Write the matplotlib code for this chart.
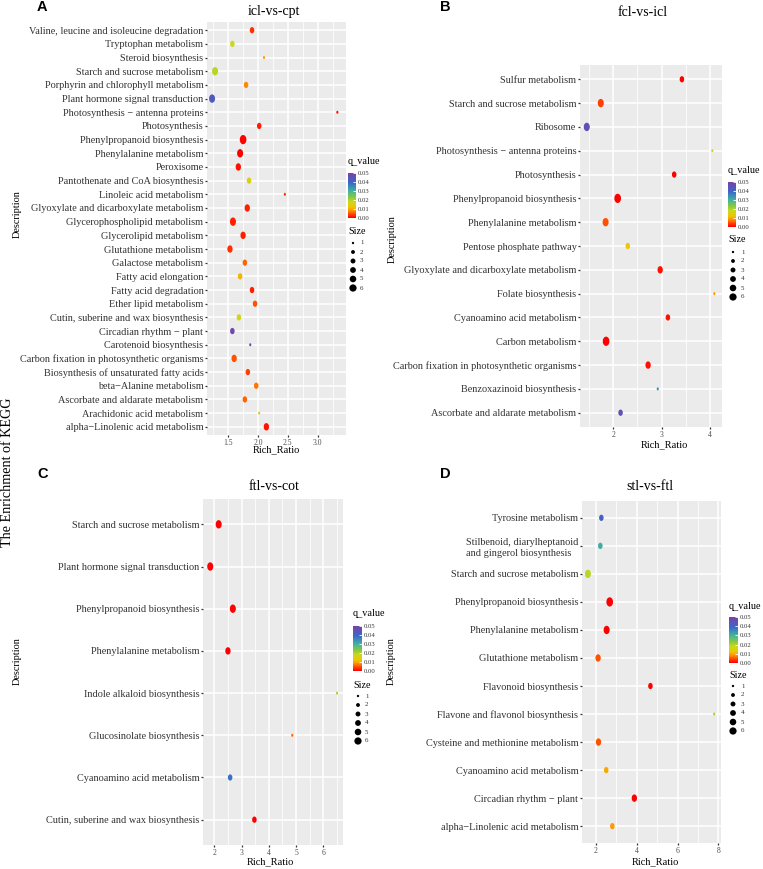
import numpy as np
import matplotlib
matplotlib.use("Agg")
import matplotlib.pyplot as plt
from matplotlib.path import Path
from matplotlib.colors import LinearSegmentedColormap, Normalize
from matplotlib.colorbar import ColorbarBase

W, H = 763, 869
SERIF = "Liberation Serif"

# ---------------- data ----------------
names_a = ["Valine, leucine and isoleucine degradation", "Tryptophan metabolism",
           "Steroid biosynthesis", "Starch and sucrose metabolism",
           "Porphyrin and chlorophyll metabolism", "Plant hormone signal transduction",
           "Photosynthesis \u2212 antenna proteins", "Photosynthesis",
           "Phenylpropanoid biosynthesis", "Phenylalanine metabolism", "Peroxisome",
           "Pantothenate and CoA biosynthesis", "Linoleic acid metabolism",
           "Glyoxylate and dicarboxylate metabolism", "Glycerophospholipid metabolism",
           "Glycerolipid metabolism", "Glutathione metabolism", "Galactose metabolism",
           "Fatty acid elongation", "Fatty acid degradation", "Ether lipid metabolism",
           "Cutin, suberine and wax biosynthesis", "Circadian rhythm \u2212 plant",
           "Carotenoid biosynthesis", "Carbon fixation in photosynthetic organisms",
           "Biosynthesis of unsaturated fatty acids", "beta\u2212Alanine metabolism",
           "Ascorbate and aldarate metabolism", "Arachidonic acid metabolism",
           "alpha\u2212Linolenic acid metabolism"]
ratio_a = [1.90, 1.57, 2.10, 1.28, 1.80, 1.23, 3.33, 2.02, 1.75, 1.70, 1.67, 1.85, 2.45, 1.82,
           1.58, 1.75, 1.53, 1.78, 1.70, 1.90, 1.95, 1.68, 1.57, 1.87, 1.60, 1.83, 1.97, 1.78,
           2.02, 2.14]
size_a = [3, 3, 1, 5, 3, 5, 1, 3, 6, 5, 4, 3, 1, 4, 5, 4, 4, 3, 3, 3, 3, 3, 3, 1, 4, 3, 3, 3, 1, 4]
q_a = [0.003, 0.018, 0.009, 0.019, 0.008, 0.043, 0.001, 0.002, 0.0, 0.0, 0.001, 0.016, 0.003,
       0.002, 0.002, 0.002, 0.003, 0.006, 0.011, 0.002, 0.005, 0.017, 0.048, 0.046, 0.005,
       0.004, 0.007, 0.006, 0.016, 0.001]

names_b = ["Sulfur metabolism", "Starch and sucrose metabolism", "Ribosome",
           "Photosynthesis \u2212 antenna proteins", "Photosynthesis",
           "Phenylpropanoid biosynthesis", "Phenylalanine metabolism",
           "Pentose phosphate pathway", "Glyoxylate and dicarboxylate metabolism",
           "Folate biosynthesis", "Cyanoamino acid metabolism", "Carbon metabolism",
           "Carbon fixation in photosynthetic organisms", "Benzoxazinoid biosynthesis",
           "Ascorbate and aldarate metabolism"]
ratio_b = [3.42, 1.74, 1.45, 4.05, 3.26, 2.09, 1.84, 2.30, 2.97, 4.09, 3.13, 1.85, 2.72, 2.92, 2.15]
size_b = [3, 5, 5, 1, 3, 6, 5, 3, 4, 1, 3, 6, 4, 1, 3]
q_b = [0.0, 0.004, 0.046, 0.016, 0.0, 0.0, 0.005, 0.013, 0.001, 0.009, 0.001, 0.0, 0.001,
       0.035, 0.045]

names_c = ["Starch and sucrose metabolism", "Plant hormone signal transduction",
           "Phenylpropanoid biosynthesis", "Phenylalanine metabolism",
           "Indole alkaloid biosynthesis", "Glucosinolate biosynthesis",
           "Cyanoamino acid metabolism", "Cutin, suberine and wax biosynthesis"]
ratio_c = [2.16, 1.85, 2.68, 2.50, 6.50, 4.86, 2.58, 3.47]
size_c = [5, 5, 5, 4, 1, 1, 3, 3]
q_c = [0.0, 0.0, 0.0, 0.0, 0.02, 0.006, 0.038, 0.0]

names_d = ["Tyrosine metabolism", "Stilbenoid, diarylheptanoid\nand gingerol biosynthesis",
           "Starch and sucrose metabolism", "Phenylpropanoid biosynthesis",
           "Phenylalanine metabolism", "Glutathione metabolism", "Flavonoid biosynthesis",
           "Flavone and flavonol biosynthesis", "Cysteine and methionine metabolism",
           "Cyanoamino acid metabolism", "Circadian rhythm \u2212 plant",
           "alpha\u2212Linolenic acid metabolism"]
ratio_d = [2.26, 2.21, 1.60, 2.67, 2.52, 2.10, 4.67, 7.80, 2.12, 2.50, 3.88, 2.80]
size_d = [3, 3, 5, 6, 5, 4, 3, 1, 4, 3, 4, 3]
q_d = [0.041, 0.031, 0.019, 0.0, 0.0, 0.005, 0.0, 0.02, 0.005, 0.010, 0.0, 0.009]

titles = ["icl-vs-cpt", "fcl-vs-icl", "ftl-vs-cot", "stl-vs-ftl"]
size_levels = [1, 2, 3, 4, 5, 6]
q_ticks = [0.0, 0.01, 0.02, 0.03, 0.04, 0.05]

# ---------------- styling ----------------
stops = [0.0, 0.08, 0.16, 0.24, 0.36, 0.46, 0.6, 0.78, 1.0]
cols = ["#FF0000", "#FF4000", "#FF8C00", "#F2C400", "#C6DA1E", "#8CC83C",
        "#40B4A0", "#3A68C8", "#7A40A8"]
cmap = LinearSegmentedColormap.from_list("qv", list(zip(stops, cols)))
norm = Normalize(0, 0.05)

circ = Path.unit_circle()
ellipse = Path(circ.vertices * [0.72, 1.0], circ.codes)


def dot_px(size):
    return np.sqrt(9 + 15.4 * (np.asarray(size, dtype=float) - 1))


def area(size, scale=1.0):
    return (dot_px(size) * scale * 72 / 100) ** 2


def px_axes(fig, left, top, right, bottom):
    return fig.add_axes([left / W, 1 - bottom / H, (right - left) / W, (bottom - top) / H])


def draw_panel(fig, box, names, ratio, size, q, xlim, major, minor, fmt):
    ax = px_axes(fig, *box)
    n = len(names)
    ypos = np.arange(n)
    ax.set_facecolor("#EBEBEB")
    ax.set_xlim(*xlim)
    ax.set_ylim(n - 1 + 0.6, -0.6)
    ax.set_xticks(major)
    ax.set_xticklabels([fmt % v for v in major], fontsize=5.5, color="#4D4D4D", family=SERIF)
    ax.set_xticks(minor, minor=True)
    ax.set_yticks(ypos)
    labs = ax.set_yticklabels(names, fontsize=7.4, color="#333333", family=SERIF,
                              multialignment="left")
    for lab in labs:
        lab.set_linespacing(1.35)
    ax.grid(True, which="major", color="white", lw=1.1)
    ax.grid(True, which="minor", axis="x", color="white", lw=0.55)
    ax.set_axisbelow(True)
    for sp in ax.spines.values():
        sp.set_visible(False)
    ax.tick_params(which="major", length=1.6, width=0.9, color="#333333", pad=1)
    ax.tick_params(which="minor", length=0)
    ax.scatter(ratio, ypos, s=area(size), c=q, cmap=cmap, norm=norm,
               marker=ellipse, linewidths=0, zorder=3)
    return ax


fig = plt.figure(figsize=(W / 100, H / 100), dpi=100)
ov = fig.add_axes([0, 0, 1, 1])
ov.set_xlim(0, W)
ov.set_ylim(H, 0)
ov.axis("off")

panels = [
    dict(box=(207, 22, 345.7, 435), data=(names_a, ratio_a, size_a, q_a),
         xlim=(1.145, 3.47), major=[1.5, 2.0, 2.5, 3.0], minor=[1.25, 1.75, 2.25, 2.75, 3.25],
         fmt="%.1f", letter=(37, 7), title=(274, 12), desc=(17, 214), xlab=(276, 450),
         qt=(348, 166), cbar=(348, 173, 356, 218), st=(348, 232), sdot=(353, 243), slab=360),
    dict(box=(580, 65, 722, 427), data=(names_b, ratio_b, size_b, q_b),
         xlim=(1.31, 4.25), major=[2, 3, 4], minor=[1.5, 2.5, 3.5],
         fmt="%d", letter=(440, 7), title=(643, 12), desc=(392, 239), xlab=(664, 445),
         qt=(728, 175), cbar=(728, 182, 736, 227), st=(728, 240), sdot=(733, 252), slab=741),
    dict(box=(203, 499, 343, 845), data=(names_c, ratio_c, size_c, q_c),
         xlim=(1.585, 6.72), major=[2, 3, 4, 5, 6], minor=[2.5, 3.5, 4.5, 5.5, 6.5],
         fmt="%d", letter=(37, 474), title=(274, 487), desc=(17, 661), xlab=(270, 862),
         qt=(353, 618), cbar=(353, 626, 362, 671), st=(353, 685), sdot=(358, 696), slab=365),
    dict(box=(582, 501, 720.7, 843), data=(names_d, ratio_d, size_d, q_d),
         xlim=(1.31, 8.12), major=[2, 4, 6, 8], minor=[3, 5, 7],
         fmt="%d", letter=(440, 474), title=(650, 487), desc=(391, 661), xlab=(655, 862),
         qt=(729, 611), cbar=(729, 617, 738, 663), st=(729, 676), sdot=(733, 686), slab=741),
]

for i, p in enumerate(panels):
    names, ratio, size, q = p["data"]
    draw_panel(fig, p["box"], names, ratio, size, q, p["xlim"], p["major"], p["minor"], p["fmt"])

    ov.text(*p["letter"], "ABCD"[i], fontsize=10.5, fontweight="bold",
            family="Liberation Sans", ha="left", va="center")
    ov.text(*p["title"], titles[i], fontsize=10, family=SERIF, ha="center", va="center")
    ov.text(*p["desc"], "Description", fontsize=7.4, family=SERIF, rotation=90,
            ha="center", va="center")
    ov.text(*p["xlab"], "Rich_Ratio", fontsize=7.5, family=SERIF, ha="center", va="center")

    # q_value colour bar
    ov.text(*p["qt"], "q_value", fontsize=7.3, family=SERIF, ha="left", va="bottom")
    cax = px_axes(fig, *p["cbar"])
    cb = ColorbarBase(cax, cmap=cmap, norm=norm, orientation="vertical", ticks=q_ticks)
    cb.outline.set_visible(False)
    cb.set_ticklabels(["%.2f" % t for t in q_ticks])
    cax.tick_params(labelsize=4.8, length=2, width=0.6, color="white", direction="in",
                    pad=1.5, labelcolor="#333333")
    for lab in cax.get_yticklabels():
        lab.set_family(SERIF)

    # size legend
    ov.text(*p["st"], "Size", fontsize=7.3, family=SERIF, ha="left", va="center")
    x0, y0 = p["sdot"]
    step = 9.0
    ly = [y0 + k * step for k in range(len(size_levels))]
    ov.scatter([x0] * len(size_levels), ly, s=area(size_levels, 0.78), color="black",
               linewidths=0, clip_on=False)
    for lv, yy in zip(size_levels, ly):
        ov.text(p["slab"], yy, str(lv), fontsize=5, family=SERIF, ha="left", va="center",
                color="#333333")

ov.text(8, 472, "The Enrichment of KEGG", fontsize=10.2, family=SERIF, rotation=90,
        ha="center", va="center")

fig.savefig("out.png", dpi=100)
